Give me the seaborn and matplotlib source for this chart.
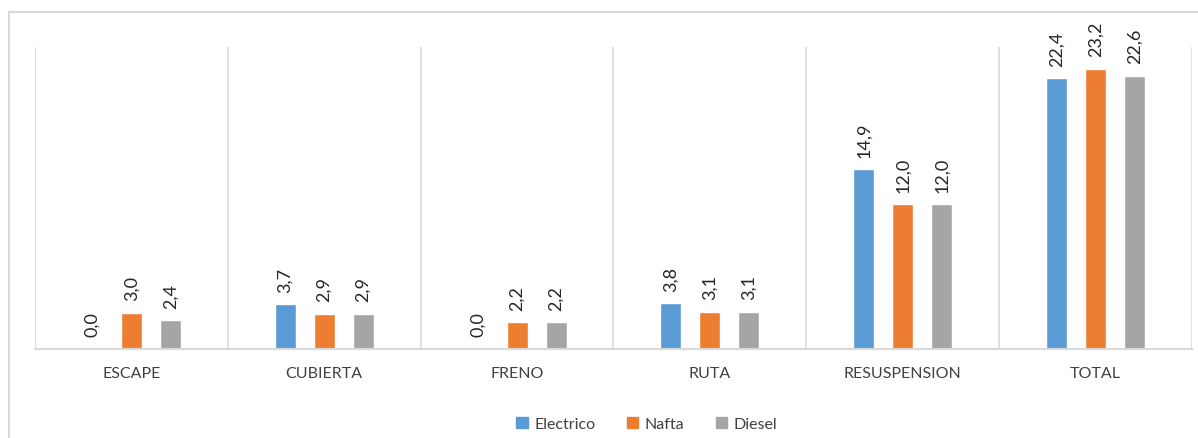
import numpy as np
import pandas as pd
import matplotlib
matplotlib.use("Agg")
import matplotlib.pyplot as plt
from matplotlib.patches import Rectangle
import seaborn as sns

# datos del grafico
categorias = ["ESCAPE", "CUBIERTA", "FRENO", "RUTA", "RESUSPENSION", "TOTAL"]
electrico = [0.0, 3.7, 0.0, 3.8, 14.9, 22.4]
nafta = [3.0, 2.9, 2.2, 3.1, 12.0, 23.2]
diesel = [2.4, 2.9, 2.2, 3.1, 12.0, 22.6]
series = ["Electrico", "Nafta", "Diesel"]
colores = ["#5b9bd5", "#ed7d31", "#a5a5a5"]


def set_config():
    sns.set_theme(style="white")
    plt.rcParams["font.family"] = ["Lato", "DejaVu Sans"]


def build_df():
    df = pd.DataFrame({"Categoria": categorias, "Electrico": electrico,
                       "Nafta": nafta, "Diesel": diesel})
    return df.melt(id_vars="Categoria", var_name="Serie", value_name="Valor")


def main():
    set_config()
    df = build_df()

    W, H = 1198, 439
    fig = plt.figure(figsize=(W / 100, H / 100), dpi=100)
    ax = fig.add_axes([35 / W, 1 - 350 / H, (1192 - 35) / W, (350 - 48) / H])

    sns.barplot(data=df, x="Categoria", y="Valor", hue="Serie", hue_order=series,
                palette=colores, width=0.606, gap=0.46, ax=ax, legend=False,
                saturation=1, errorbar=None)

    ax.set_xlim(-0.5, len(categorias) - 0.5)
    ax.set_ylim(0, 25)
    ax.set_yticks([])
    ax.set_xlabel("")
    ax.set_ylabel("")
    ax.tick_params(axis="x", length=0, pad=12, labelsize=11.5, colors="#404040")

    # lineas verticales entre categorias
    for b in np.arange(-0.5, len(categorias), 1.0):
        ax.axvline(b, color="#d9d9d9", lw=1.2, zorder=0)

    for side in ["top", "right", "left"]:
        ax.spines[side].set_visible(False)
    ax.spines["bottom"].set_color("#d9d9d9")
    ax.spines["bottom"].set_linewidth(1.5)

    # etiquetas de valor
    for cont in ax.containers:
        labels = [f"{v:.1f}".replace(".", ",") for v in cont.datavalues]
        ax.bar_label(cont, labels=labels, rotation=90, padding=9,
                     fontsize=13, color="#262626")

    # leyenda
    handles = [Rectangle((0, 0), 1, 1, color=c) for c in colores]
    fig.legend(handles, series, loc="center", bbox_to_anchor=(0.54, 1 - 425 / H),
               ncol=3, frameon=False, fontsize=11.5, handlelength=0.7,
               handleheight=0.7, handletextpad=0.4, columnspacing=2.0,
               labelcolor="#404040")

    # marco exterior
    fig.patches.append(Rectangle((9 / W, -0.1), 1.2, 1 - 13 / H + 0.1,
                                 transform=fig.transFigure, fill=False,
                                 edgecolor="#d9d9d9", lw=1.5))

    fig.savefig("out.png", dpi=100)


if __name__ == "__main__":
    main()
